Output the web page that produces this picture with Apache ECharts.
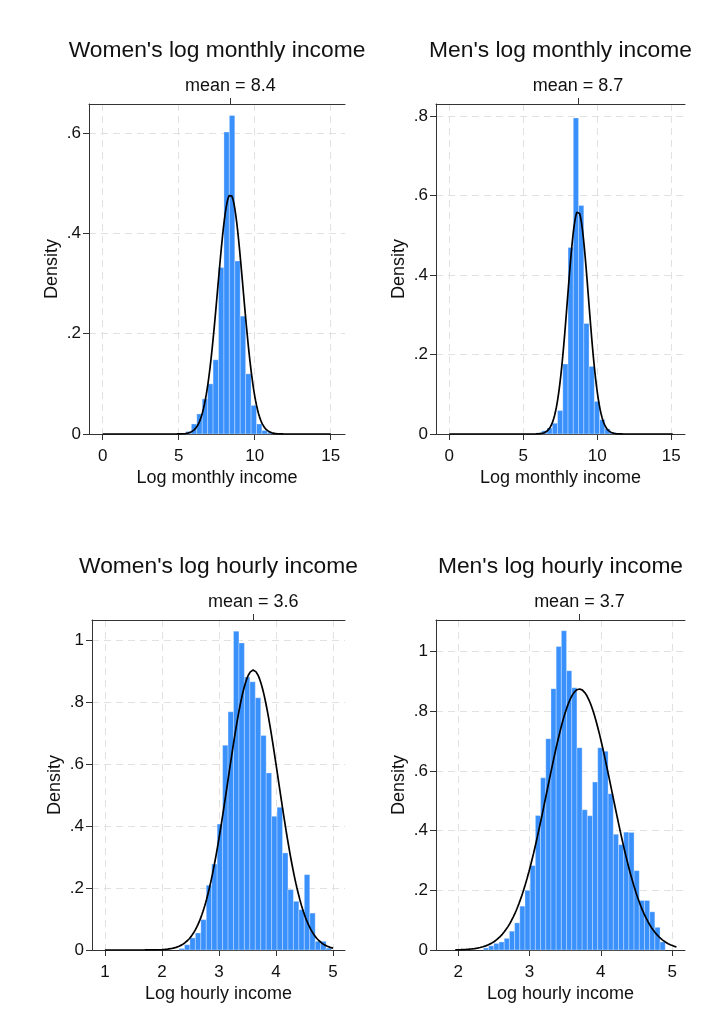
<!DOCTYPE html>
<html>
<head>
<meta charset="utf-8">
<script src="https://cdn.jsdelivr.net/npm/echarts@6/dist/echarts.min.js"></script>
<style>
  html, body { margin: 0; padding: 0; background: #ffffff; }
  #chart { width: 704px; height: 1026px; }
</style>
</head>
<body>
<div id="chart"></div>
<script>
// ---- Histogram data: left edge of first bin, bin width, density per bin ----
const womenMonthlyStart = 5.12;
const womenMonthlyWidth = 0.357;
const womenMonthlyDensity = [0.002, 0.005, 0.020, 0.040, 0.070, 0.100, 0.148, 0.332, 0.602,
  0.635, 0.345, 0.235, 0.120, 0.057, 0.020, 0.007, 0.003];

const menMonthlyStart = 5.895;
const menMonthlyWidth = 0.355;
const menMonthlyDensity = [0.003, 0.008, 0.015, 0.027, 0.059, 0.176, 0.469, 0.795,
  0.575, 0.278, 0.170, 0.082, 0.036, 0.013, 0.004];

const womenHourlyStart = 2.30;
const womenHourlyWidth = 0.0955;
const womenHourlyDensity = [0.005, 0.017, 0.039, 0.055, 0.098, 0.209, 0.277, 0.406, 0.660,
  0.768, 1.028, 0.990, 0.880, 0.865, 0.813, 0.692, 0.571, 0.431, 0.460, 0.313, 0.195,
  0.157, 0.130, 0.243, 0.119, 0.028, 0.028, 0.006];

const menHourlyStart = 2.355;
const menHourlyWidth = 0.0728;
const menHourlyDensity = [0.007, 0.014, 0.022, 0.027, 0.039, 0.063, 0.091, 0.147, 0.200,
  0.283, 0.451, 0.577, 0.708, 0.876, 1.017, 1.070, 0.936, 0.879, 0.678, 0.470, 0.450,
  0.563, 0.678, 0.666, 0.524, 0.388, 0.353, 0.395, 0.394, 0.266, 0.166, 0.166, 0.128,
  0.076, 0.027];

// ---- Normal fits (mean, standard deviation, plotted range) ----
const womenMonthlyMean = 8.4, womenMonthlySd = 0.835, womenMonthlyCurve = [0, 15];
const menMonthlyMean = 8.7, menMonthlySd = 0.711, menMonthlyCurve = [0, 15.1];
const womenHourlyMean = 3.6, womenHourlySd = 0.442, womenHourlyCurve = [1.0, 5.0];
const menHourlyMean = 3.7, menHourlySd = 0.456, menHourlyCurve = [1.96, 5.06];

// ---- Tick labels ----
const monthlyXTicks = [0, 5, 10, 15];
const womenHourlyXTicks = [1, 2, 3, 4, 5];
const menHourlyXTicks = [2, 3, 4, 5];
const womenMonthlyYTicks = [0, 0.2, 0.4, 0.6];
const menMonthlyYTicks = [0, 0.2, 0.4, 0.6, 0.8];
const hourlyYTicks = [0, 0.2, 0.4, 0.6, 0.8, 1];

const FONT = '"Liberation Sans", Arial, Helvetica, sans-serif';
const TEXT_COLOR = '#111111';
const AXIS_COLOR = '#333333';
const GRID_COLOR = '#e1e1e1';
const BAR_COLOR = '#3b91fc';
const BAR_EDGE = 'rgba(255,255,255,0.38)';

const panels = [
  {
    title: "Women's log monthly income", xName: 'Log monthly income',
    grid: { left: 89, top: 104, width: 256, height: 330 },
    xMin: -0.9, xMax: 15.94, yMax: 0.658,
    xTicks: monthlyXTicks, yTicks: womenMonthlyYTicks,
    start: womenMonthlyStart, width: womenMonthlyWidth, density: womenMonthlyDensity,
    mean: womenMonthlyMean, sd: womenMonthlySd, curve: womenMonthlyCurve
  },
  {
    title: "Men's log monthly income", xName: 'Log monthly income',
    grid: { left: 436, top: 104, width: 249, height: 330 },
    xMin: -0.9, xMax: 15.93, yMax: 0.830,
    xTicks: monthlyXTicks, yTicks: menMonthlyYTicks,
    start: menMonthlyStart, width: menMonthlyWidth, density: menMonthlyDensity,
    mean: menMonthlyMean, sd: menMonthlySd, curve: menMonthlyCurve
  },
  {
    title: "Women's log hourly income", xName: 'Log hourly income',
    grid: { left: 92, top: 620, width: 253, height: 330 },
    xMin: 0.774, xMax: 5.21, yMax: 1.064,
    xTicks: womenHourlyXTicks, yTicks: hourlyYTicks,
    start: womenHourlyStart, width: womenHourlyWidth, density: womenHourlyDensity,
    mean: womenHourlyMean, sd: womenHourlySd, curve: womenHourlyCurve
  },
  {
    title: "Men's log hourly income", xName: 'Log hourly income',
    grid: { left: 436, top: 620, width: 249, height: 330 },
    xMin: 1.69, xMax: 5.18, yMax: 1.106,
    xTicks: menHourlyXTicks, yTicks: hourlyYTicks,
    start: menHourlyStart, width: menHourlyWidth, density: menHourlyDensity,
    mean: menHourlyMean, sd: menHourlySd, curve: menHourlyCurve
  }
];

function normalPdf(x, m, s) {
  const z = (x - m) / s;
  return Math.exp(-0.5 * z * z) / (s * Math.sqrt(2 * Math.PI));
}

function formatDensity(v) {
  if (v === 0) return '0';
  return String(Math.round(v * 10) / 10).replace(/^0\./, '.');
}

function renderBar(params, api) {
  const p0 = api.coord([api.value(0), 0]);
  const p1 = api.coord([api.value(1), api.value(2)]);
  return {
    type: 'rect',
    shape: { x: p0[0], y: p1[1], width: p1[0] - p0[0], height: p0[1] - p1[1] },
    style: { fill: BAR_COLOR, stroke: BAR_EDGE, lineWidth: 0.8 }
  };
}

const option = {
  animation: false,
  backgroundColor: '#ffffff',
  textStyle: { fontFamily: FONT },
  title: [], grid: [], xAxis: [], yAxis: [], series: []
};

panels.forEach((p, i) => {
  option.grid.push(Object.assign({ containLabel: false }, p.grid));

  option.title.push({
    text: p.title,
    left: p.grid.left + p.grid.width / 2,
    top: p.grid.top - 65,
    textAlign: 'center',
    padding: 0,
    textStyle: { fontFamily: FONT, fontSize: 22.8, fontWeight: 'normal', color: TEXT_COLOR }
  });

  // bottom value axis
  option.xAxis.push({
    gridIndex: i, type: 'value', position: 'bottom',
    min: p.xMin, max: p.xMax,
    name: p.xName, nameLocation: 'middle', nameGap: 35,
    nameTextStyle: { fontFamily: FONT, fontSize: 18, color: TEXT_COLOR },
    axisLine: { show: true, onZero: false, lineStyle: { color: AXIS_COLOR, width: 1 } },
    axisTick: { show: true, customValues: p.xTicks, length: 6, lineStyle: { color: AXIS_COLOR } },
    axisLabel: { customValues: p.xTicks, margin: 14, fontFamily: FONT, fontSize: 17, color: TEXT_COLOR },
    splitLine: { show: true, lineStyle: { color: GRID_COLOR, type: [7, 5], width: 1 } }
  });
  // top axis marking the mean
  option.xAxis.push({
    gridIndex: i, type: 'value', position: 'top',
    min: p.xMin, max: p.xMax,
    axisLine: { show: true, onZero: false, lineStyle: { color: AXIS_COLOR, width: 1 } },
    axisTick: { show: true, customValues: [p.mean], length: 6, lineStyle: { color: AXIS_COLOR } },
    axisLabel: {
      customValues: [p.mean], margin: 9, fontFamily: FONT, fontSize: 18, color: TEXT_COLOR,
      formatter: () => 'mean = ' + p.mean
    },
    splitLine: { show: false }
  });

  option.yAxis.push({
    gridIndex: i, type: 'value', min: 0, max: p.yMax,
    name: 'Density', nameLocation: 'middle', nameGap: 28,
    nameTextStyle: { fontFamily: FONT, fontSize: 18, color: TEXT_COLOR },
    axisLine: { show: true, onZero: false, lineStyle: { color: AXIS_COLOR, width: 1 } },
    axisTick: { show: true, customValues: p.yTicks, length: 6, lineStyle: { color: AXIS_COLOR } },
    axisLabel: {
      customValues: p.yTicks, margin: 8, fontFamily: FONT, fontSize: 17, color: TEXT_COLOR,
      formatter: formatDensity
    },
    splitLine: { show: true, lineStyle: { color: GRID_COLOR, type: [7, 5], width: 1 } }
  });

  const bars = p.density.map((d, k) => [p.start + k * p.width, p.start + (k + 1) * p.width, d]);
  option.series.push({
    type: 'custom', xAxisIndex: 2 * i, yAxisIndex: i,
    renderItem: renderBar, encode: { x: [0, 1], y: 2 },
    data: bars, z: 3, silent: true
  });

  const n = 240;
  const curve = [];
  for (let k = 0; k <= n; k++) {
    const x = p.curve[0] + (p.curve[1] - p.curve[0]) * k / n;
    curve.push([x, normalPdf(x, p.mean, p.sd)]);
  }
  option.series.push({
    type: 'line', xAxisIndex: 2 * i, yAxisIndex: i,
    data: curve, showSymbol: false, symbol: 'none', z: 4, silent: true,
    lineStyle: { color: '#000000', width: 1.7 }
  });
});

const chart = echarts.init(document.getElementById('chart'), null, { renderer: 'canvas' });
chart.setOption(option);
</script>
</body>
</html>
